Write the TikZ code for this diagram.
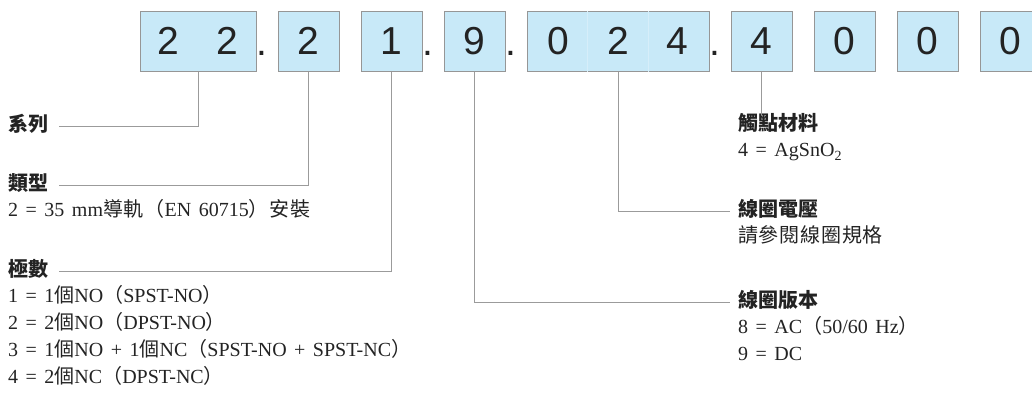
\documentclass[tikz,border=0pt]{standalone}
\usepackage{fontspec}
\setmainfont[WordSpace=1.5]{Liberation Serif}
\setsansfont{Liberation Sans}
\newfontfamily\cjk{Noto Sans CJK TC}
\newfontfamily\cjkdesc[LetterSpace=4]{Noto Sans CJK TC}
\usetikzlibrary{positioning}

\definecolor{cellblue}{RGB}{200,233,248}
\definecolor{cellrule}{RGB}{150,150,150}
\definecolor{splitblue}{RGB}{214,238,250}
\definecolor{leadgray}{RGB}{155,155,155}
\definecolor{inkgray}{RGB}{35,35,35}
\newcommand{\zh}[1]{{\cjkdesc #1}}

\begin{document}
\begin{tikzpicture}[
  x=1pt, y=-1pt,
  node distance=6.5pt and 21pt,
  cell/.style={rectangle, draw=cellrule, fill=cellblue, line width=1pt, minimum width=61pt, minimum height=60pt, inner sep=0pt, text=inkgray, font=\sffamily\fontsize{39}{39}\selectfont},
  sep/.style={anchor=base, inner sep=0pt, text=inkgray, font=\sffamily\fontsize{39}{39}\selectfont},
  head/.style={anchor=base west, inner sep=0pt, text height=15pt, text depth=5pt, text=inkgray, font=\cjk\bfseries\fontsize{20}{20}\selectfont},
  desc/.style={inner sep=0pt, text height=15pt, text depth=5pt, text=inkgray, font=\fontsize{20}{20}\selectfont},
  leader/.style={draw=leadgray, line width=1pt},
  split/.style={draw=splitblue, line width=0.6pt}
]
\useasboundingbox (0,0) rectangle (1032,392);

% Code boxes
\node (b22) [cell, minimum width=116pt] at (198,41) {2\hspace{38pt}2};
\node (b2) [cell, right=of b22] {2};
\node (b1) [cell, right=of b2] {1};
\node (b9) [cell, right=of b1] {9};
\node (b024) [cell, minimum width=182pt, right=of b9] {0\hspace{38pt}2\hspace{38pt}4};
\node (b4) [cell, right=of b024] {4};
\node (b0a) [cell, right=of b4] {0};
\node (b0b) [cell, right=of b0a] {0};
\node (b0c) [cell, right=of b0b] {0};
\draw [split] ([xshift=-30.5pt]b024.north) -- ([xshift=-30.5pt]b024.south);
\draw [split] ([xshift=30.5pt]b024.north) -- ([xshift=30.5pt]b024.south);

% Dots
\path (b22) -- (b2) node (d1) [sep, midway, xshift=-5pt, yshift=-14pt] {.};
\path (b1) -- (b9) node (d2) [sep, midway, xshift=-5pt, yshift=-14pt] {.};
\path (b9) -- (b024) node (d3) [sep, midway, xshift=-5pt, yshift=-14pt] {.};
\path (b024) -- (b4) node (d4) [sep, midway, xshift=-5pt, yshift=-14pt] {.};

% Left labels
\node (sys) [head] at (8,131) {系列};
\node (typ) [head] at (8,190) {類型};
\node (typval) [desc, below=of typ.south west, anchor=north west] {2 = 35 mm\zh{導軌（}EN 60715\zh{）安裝}};
\node (pol) [head] at (8,276) {極數};
\node (pol1) [desc, below=of pol.south west, anchor=north west] {1 = 1\zh{個}NO\zh{（}SPST-NO\zh{）}};
\node (pol2) [desc, below=of pol1.south west, anchor=north west] {2 = 2\zh{個}NO\zh{（}DPST-NO\zh{）}};
\node (pol3) [desc, below=of pol2.south west, anchor=north west] {3 = 1\zh{個}NO + 1\zh{個}NC\zh{（}SPST-NO + SPST-NC\zh{）}};
\node (pol4) [desc, below=of pol3.south west, anchor=north west] {4 = 2\zh{個}NC\zh{（}DPST-NC\zh{）}};

% Right labels
\node (mat) [head] at (738,130) {觸點材料};
\node (matval) [desc, below=of mat.south west, anchor=north west] {4 = AgSnO\textsubscript{2}};
\node (volt) [head] at (738,216) {線圈電壓};
\node (voltval) [desc, below=of volt.south west, anchor=north west] {\zh{請參閱線圈規格}};
\node (ver) [head] at (738,307) {線圈版本};
\node (ver1) [desc, below=of ver.south west, anchor=north west] {8 = AC\zh{（}50/60 Hz\zh{）}};
\node (ver2) [desc, below=of ver1.south west, anchor=north west] {9 = DC};

% Leaders
\draw [leader] (b22.south) |- ([xshift=11pt]sys.east);
\draw [leader] (b2.south) |- ([xshift=11pt]typ.east);
\draw [leader] (b1.south) |- ([xshift=11pt]pol.east);
\draw [leader] (b9.south) |- ([xshift=-8pt]ver.west);
\draw [leader] (b024.south) |- ([xshift=-8pt]volt.west);
\draw [leader] (b4.south) -- (b4.south |- mat.north);
\end{tikzpicture}
\end{document}
